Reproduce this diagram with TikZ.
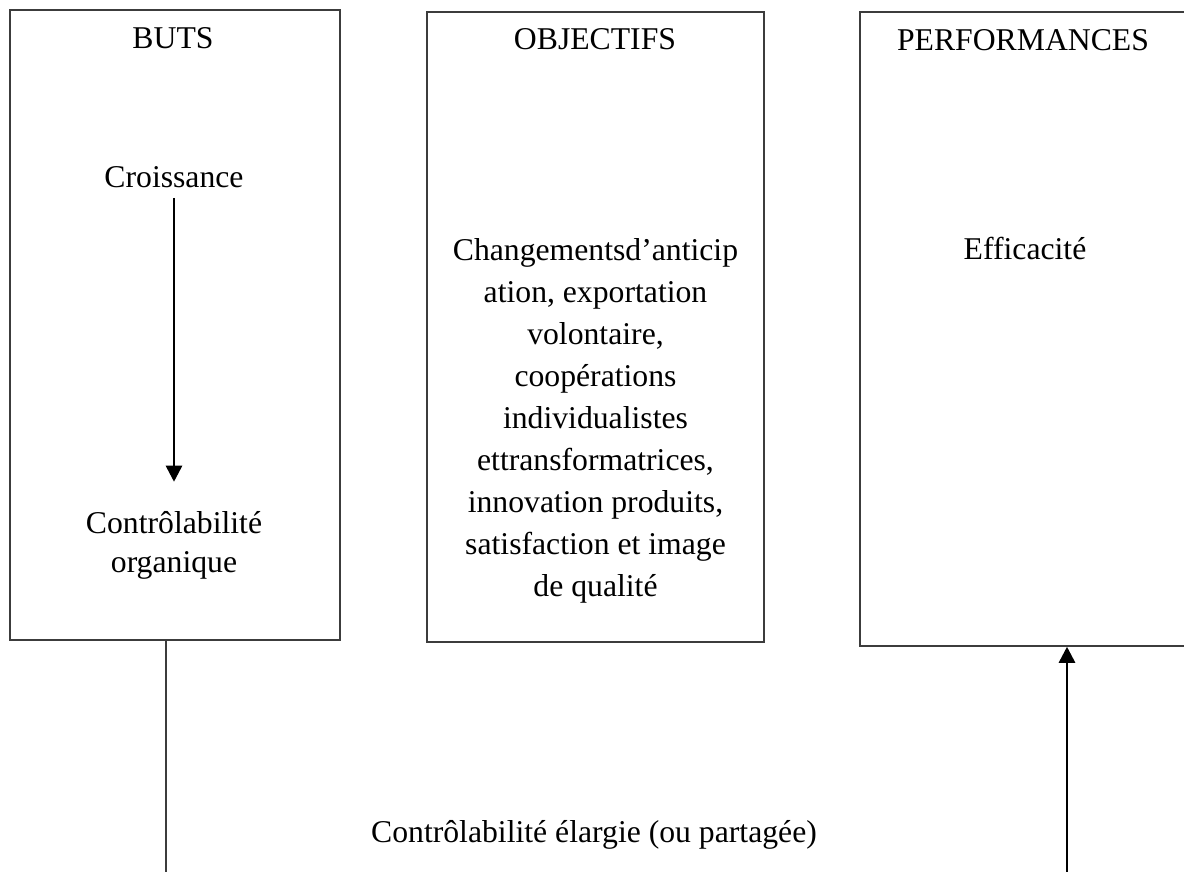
\documentclass[tikz,border=0pt]{standalone}
\usepackage{fontspec}
\setmainfont{Liberation Serif}
\usetikzlibrary{arrows.meta}
\definecolor{boxgray}{HTML}{3C3C3C}
\begin{document}
\begin{tikzpicture}[x=1pt,y=-1pt,
  panel/.style={draw=boxgray,line width=1.5pt,inner sep=0pt,rectangle},
  lbl/.style={inner sep=0pt,anchor=base,align=center,font=\fontsize{31.7}{42}\selectfont},
  arr/.style={line width=2.6pt,-{Triangle[length=16pt,width=16pt]}},
  thin/.style={draw=boxgray,line width=1.5pt}]
\useasboundingbox[fill=white] (0,0) rectangle (1184,872);
% boxes
\node[panel,minimum width=330pt,minimum height=630pt] (buts) at (175,325) {};
\node[panel,minimum width=337pt,minimum height=630pt] (obj) at (595.5,327) {};
\node[panel,minimum width=327pt,minimum height=634pt] (perf) at (1023.5,329) {};
% titles
\node[lbl] (tbuts) at (173,49) {BUTS};
\node[lbl] (tobj) at (595,50) {OBJECTIFS};
\node[lbl] (tperf) at (1023,51) {PERFORMANCES};
% contents (base anchor = baseline of last line)
\node[lbl] (crois) at (174,188) {Croissance};
\node[lbl,font=\fontsize{31.7}{39}\selectfont] (ctrl) at (174,572) {Contrôlabilité\\organique};
\node[lbl] (chg) at (595.5,596) {Changementsd’anticip\\ation, exportation\\volontaire,\\coopérations\\individualistes\\ettransformatrices,\\innovation produits,\\satisfaction et image\\de qualité};
\node[lbl] (eff) at (1025,259) {Efficacité};
\node[lbl] (elarg) at (594,842) {Contrôlabilité élargie (ou partagée)};
% connectors
\coordinate (bl) at (166,880);
\coordinate (br) at (1067,880);
\draw[arr] ([yshift=-10pt]crois.base) -- ([yshift=29pt]ctrl.north);
\draw[thin] (buts.south -| bl) -- (bl);
\draw[arr] (br) -- (perf.south -| br);
\end{tikzpicture}
\end{document}
